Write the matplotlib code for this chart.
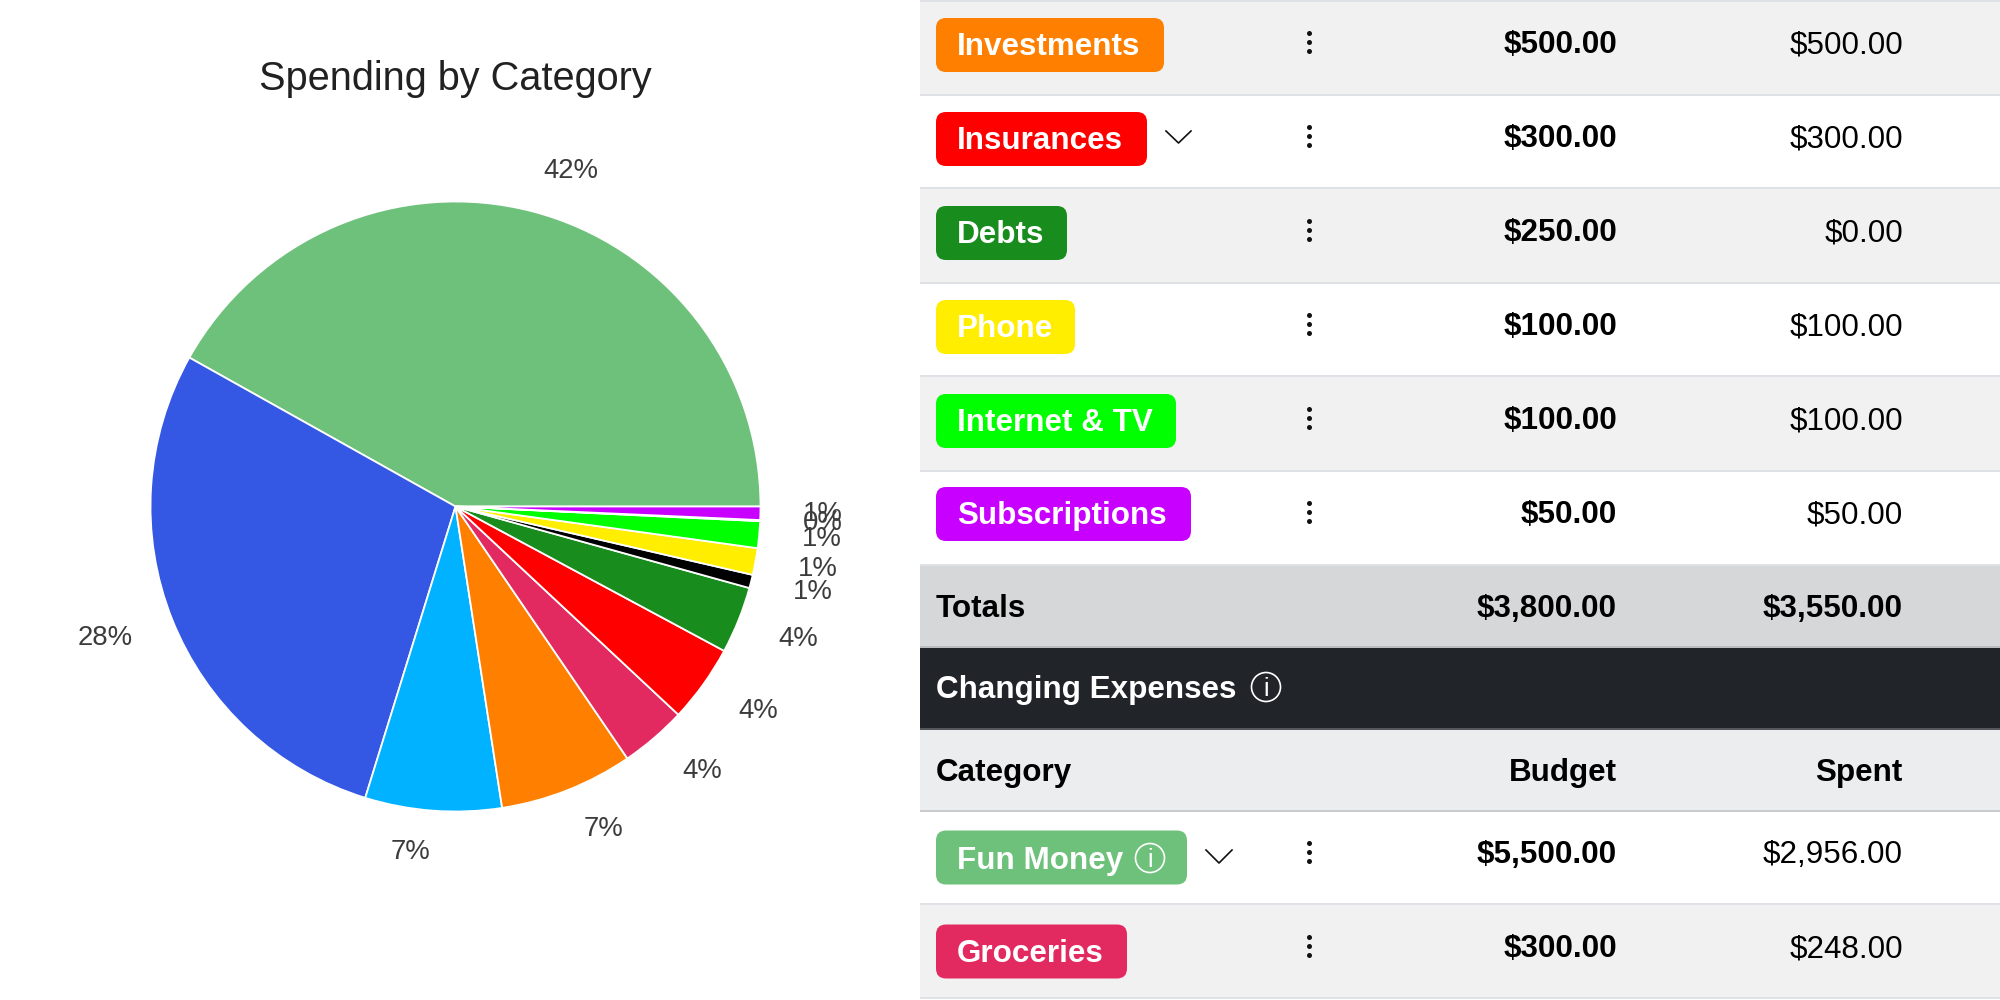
import numpy as np
import matplotlib
matplotlib.use("Agg")
import matplotlib.pyplot as plt
from matplotlib.patches import Rectangle, FancyBboxPatch, Circle

plt.rcParams['font.family'] = ['Liberation Sans', 'DejaVu Sans']

# ---------- data ----------
chart_title = "Spending by Category"
slice_names = ["Fun Money", "Other Fixed", "Other Changing", "Investments", "Groceries",
               "Insurances", "Debts", "Misc", "Phone", "Internet & TV", "Zero", "Subscriptions"]
slice_values = [2956, 2000, 510, 500, 248, 290, 250, 50, 100, 100, 4, 50]
slice_labels = ["42%", "28%", "7%", "7%", "4%", "4%", "4%", "1%", "1%", "1%", "0%", "1%"]
slice_colors = ["#6ec17a", "#3458e3", "#00b2ff", "#ff7f00", "#e32a60", "#ff0000",
                "#188c1c", "#000000", "#ffee00", "#00ff00", "#ffffff", "#c800ff"]

row_names = ["Investments", "Insurances", "Debts", "Phone", "Internet & TV", "Subscriptions"]
row_budget = ["$500.00", "$300.00", "$250.00", "$100.00", "$100.00", "$50.00"]
row_spent = ["$500.00", "$300.00", "$0.00", "$100.00", "$100.00", "$50.00"]
row_colors = ["#ff7f00", "#ff0000", "#188c1c", "#ffee00", "#00ff00", "#c800ff"]
row_badge_right = [1164, 1147, 1067, 1075, 1176, 1191]
row_badge_center = [45, 139, 233, 327, 421, 514]
row_has_chevron = [False, True, False, False, False, False]

totals = ("Totals", "$3,800.00", "$3,550.00")
section_title = "Changing Expenses"
header = ("Category", "Budget", "Spent")
lower_names = ["Fun Money", "Groceries"]
lower_budget = ["$5,500.00", "$300.00"]
lower_spent = ["$2,956.00", "$248.00"]
lower_colors = ["#6ec17a", "#e32a60"]
lower_badge_right = [1187, 1127]

# ---------- figure ----------
fig = plt.figure(figsize=(20, 10), dpi=100, facecolor="white")
bg = fig.add_axes([0, 0, 1, 1])
bg.set_xlim(0, 2000)
bg.set_ylim(1000, 0)
bg.axis("off")

TS = 22.6
BUDGET_X = 1617
SPENT_X = 1903
LEFT = 936
DOT_X = 1309


def band(y0, y1, color, line="#dee2e6"):
    bg.add_patch(Rectangle((920, y0), 1080, y1 - y0, fc=color, ec="none", zorder=1))
    bg.add_patch(Rectangle((920, y1 - 1), 1080, 2, fc=line, ec="none", zorder=2))


def badge(x1, yc, color):
    h = 54
    r = 10
    bg.add_patch(FancyBboxPatch((LEFT + r, yc - h / 2 + r), x1 - LEFT - 2 * r, h - 2 * r,
                                boxstyle=f"round,pad={r},rounding_size={r}",
                                fc=color, ec="none", zorder=3))


def dots(yc):
    bg.scatter([DOT_X] * 3, [yc - 9, yc, yc + 9], s=13, c="#111111", zorder=4, linewidths=0)


def chevron(x0, x1, y0, y1):
    bg.plot([x0, (x0 + x1) / 2, x1], [y0, y1, y0], color="#111111", lw=1.2, zorder=4)


def info(x, y, color="white"):
    bg.add_patch(Circle((x, y), 14.5, fc="none", ec=color, lw=1.2, zorder=5))
    bg.text(x, y + 9, "i", color=color, fontsize=18, ha="center", va="baseline", zorder=5)


def value(x, base, s, bold):
    bg.text(x, base, s, fontsize=TS, ha="right", va="baseline", color="#000000",
            fontweight="bold" if bold else "normal", zorder=5)


# upper rows
edges = [0, 95, 188, 283, 376, 471, 565]
for i, name in enumerate(row_names):
    y0, y1 = edges[i], edges[i + 1]
    band(y0, y1, "#f1f1f1" if i % 2 == 0 else "#ffffff")
    bc = row_badge_center[i]
    badge(row_badge_right[i], bc, row_colors[i])
    bg.text(957, bc + 10, name, color="white", fontsize=TS, fontweight="bold",
            ha="left", va="baseline", zorder=5)
    yc = 42 + i * 94
    dots(yc)
    value(BUDGET_X, yc + 11, row_budget[i], True)
    value(SPENT_X, yc + 11, row_spent[i], False)
    if row_has_chevron[i]:
        chevron(1166, 1191, 131, 143)
bg.add_patch(Rectangle((920, 0), 1080, 1.5, fc="#dee2e6", ec="none", zorder=2))

# totals
band(565, 647, "#d6d7d9", "#b9bbbe")
bg.text(LEFT, 617, totals[0], fontsize=TS, fontweight="bold", va="baseline", color="#000000", zorder=5)
value(BUDGET_X, 617, totals[1], True)
value(SPENT_X, 617, totals[2], True)

# section header
band(647, 729, "#212529", "#54585c")
bg.text(LEFT, 698, section_title, fontsize=TS, fontweight="bold", va="baseline", color="white", zorder=5)
info(1266, 687)

# column header
band(729, 811, "#ebedef", "#c8cacd")
bg.text(LEFT, 781, header[0], fontsize=TS, fontweight="bold", va="baseline", color="#000000", zorder=5)
value(BUDGET_X, 781, header[1], True)
value(SPENT_X, 781, header[2], True)

# lower rows
low_edges = [811, 904, 998]
low_bc = [857.5, 951.5]
low_vc = [852, 946]
low_base = [869, 962]
for i, name in enumerate(lower_names):
    band(low_edges[i], low_edges[i + 1], "#ffffff" if i == 0 else "#f1f1f1")
    badge(lower_badge_right[i], low_bc[i], lower_colors[i])
    bg.text(957, low_base[i], name, color="white", fontsize=TS, fontweight="bold",
            ha="left", va="baseline", zorder=5)
    dots(low_vc[i])
    value(BUDGET_X, low_vc[i] + 11, lower_budget[i], True)
    value(SPENT_X, low_vc[i] + 11, lower_spent[i], False)
info(1150, 858)
chevron(1206, 1232, 850, 863)

# pie chart
R = 305
CX, CY = 455.5, 506.5
M = 1.25
ax = fig.add_axes([(CX - R * M) / 2000, 1 - (CY + R * M) / 1000, 2 * R * M / 2000, 2 * R * M / 1000])
wedges, _ = ax.pie(slice_values, colors=slice_colors, startangle=0, counterclock=True, radius=1,
                   wedgeprops=dict(edgecolor="white", linewidth=1.3), frame=True)
ax.set_xlim(-M, M)
ax.set_ylim(-M, M)
ax.set_aspect("equal")
ax.axis("off")
ax.patch.set_alpha(0)
for w, lab in zip(wedges, slice_labels):
    a = np.deg2rad((w.theta1 + w.theta2) / 2)
    c, s = np.cos(a), np.sin(a)
    half_w = 14.3 if len(lab) == 2 else 19.7
    dx = np.sign(c) * (half_w + 11 * abs(c))
    dy = np.sign(s) * 10.1 * np.sqrt(abs(s)) if abs(s) > 0.3 else 10.1 * s
    ax.annotate(lab, xy=(1.09 * c, 1.09 * s), xytext=(dx, dy), textcoords="offset points",
                ha="center", va="center", fontsize=19.8, color="#3c3c3c", annotation_clip=False)

fig.text(CX / 2000, 1 - 79 / 1000, chart_title, fontsize=28.6, color="#212121", ha="center", va="center")

fig.savefig("out.png", dpi=100, facecolor="white")
